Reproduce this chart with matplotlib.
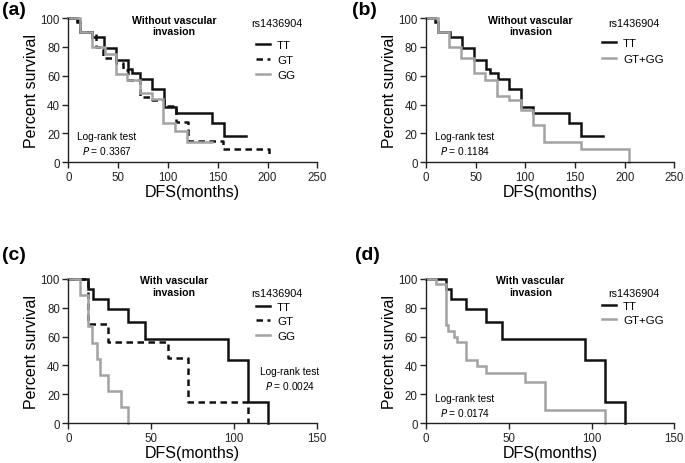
import matplotlib
matplotlib.use("Agg")
import matplotlib.pyplot as plt

plt.rcParams['font.family'] = ['Liberation Sans', 'DejaVu Sans']

# ---------------- data ----------------
# (a)/(b) without vascular invasion
tt_nv_t = [0, 9, 12, 24, 36, 48, 60, 64, 72, 84, 96, 108, 144, 156, 178]
tt_nv_s = [100, 97, 90, 87, 79, 71, 65, 62, 58, 51, 38, 34, 27, 18.5, 18.5]
gt_nv_t = [0, 9, 12, 28, 35, 48, 55, 60, 72, 84, 96, 105, 108, 120, 155, 202]
gt_nv_s = [100, 98, 90, 80, 72, 69, 64, 57, 45, 43, 39, 37, 28, 14.5, 9, 4]
gg_nv_t = [0, 12, 24, 37, 48, 59, 72, 84, 95, 107, 119, 144]
gg_nv_s = [100, 90, 80, 75, 61, 57, 48, 44, 27, 22, 14, 14]
gtgg_nv_t = [0, 12, 23, 35, 48, 59, 71, 84, 96, 108, 119, 156, 204]
gtgg_nv_s = [100, 90, 80, 72, 62, 57, 46, 43, 36, 26, 14, 9.5, 0]

# (c)/(d) with vascular invasion
tt_v_t = [0, 12, 15, 24, 36, 46, 96, 108, 120]
tt_v_s = [100, 93, 86, 79, 70, 58, 44, 15, 0]
gt_v_t = [0, 12, 24, 60, 72, 108]
gt_v_s = [100, 69, 56, 45, 15, 0]
gg_v_t = [0, 7, 12, 14, 17, 19, 24, 32, 36]
gg_v_s = [100, 89, 67, 55.6, 44.4, 33.3, 22.2, 11.1, 0]
gtgg_v_t = [0, 6, 12, 13.5, 17, 19, 24, 31, 36, 60, 72, 108]
gtgg_v_s = [100, 96, 68, 64, 60, 56, 44, 39.5, 35, 28.5, 9, 0]

panel_labels = ["(a)", "(b)", "(c)", "(d)"]
titles = ["Without vascular\ninvasion", "Without vascular\ninvasion",
          "With vascular\ninvasion", "With vascular\ninvasion"]
pvalues = ["0.3367", "0.1184", "0.0024", "0.0174"]
legend_title = "rs1436904"
x_ticks_nv = [0, 50, 100, 150, 200, 250]
x_ticks_v = [0, 50, 100, 150]
y_ticks = [0, 20, 40, 60, 80, 100]

BLACK = "#111111"
GRAY = "#a3a3a3"
LW = 1.8

fig = plt.figure(figsize=(6.85, 4.64), dpi=100)

W, H = 685.0, 464.0
def add_ax(x0, ytop, x1, ybot):
    return fig.add_axes([x0 / W, 1 - ybot / H, (x1 - x0) / W, (ybot - ytop) / H])

ax_a = add_ax(68.3, 19.0, 317.3, 163.3)
ax_b = add_ax(426.0, 19.0, 674.3, 163.3)
ax_c = add_ax(68.3, 279.7, 317.3, 424.3)
ax_d = add_ax(426.0, 279.7, 674.3, 424.3)

panels = [
    (ax_a, [(tt_nv_t, tt_nv_s, "TT", BLACK, "-"),
            (gt_nv_t, gt_nv_s, "GT", BLACK, "--"),
            (gg_nv_t, gg_nv_s, "GG", GRAY, "-")], x_ticks_nv),
    (ax_b, [(tt_nv_t, tt_nv_s, "TT", BLACK, "-"),
            (gtgg_nv_t, gtgg_nv_s, "GT+GG", GRAY, "-")], x_ticks_nv),
    (ax_c, [(tt_v_t, tt_v_s, "TT", BLACK, "-"),
            (gt_v_t, gt_v_s, "GT", BLACK, "--"),
            (gg_v_t, gg_v_s, "GG", GRAY, "-")], x_ticks_v),
    (ax_d, [(tt_v_t, tt_v_s, "TT", BLACK, "-"),
            (gtgg_v_t, gtgg_v_s, "GT+GG", GRAY, "-")], x_ticks_v),
]

# layout positions (axes fraction)
logrank_pos = [(0.155, 0.18), (0.157, 0.18), (0.89, 0.365), (0.157, 0.177)]
title_pos = [(0.424, 0.948), (0.42, 0.948), (0.424, 0.95), (0.42, 0.95)]
legtitle_pos = [(0.838, 0.965), (0.836, 0.965), (0.838, 0.9), (0.838, 0.9)]
legend_pos = [(0.752, 0.711), (0.707, 0.771), (0.752, 0.705), (0.707, 0.762)]
legend_spacing = [0.45, 0.45, 0.38, 0.38]
label_fig_pos = [(0.003, 0.995), (0.514, 0.995), (0.003, 0.468), (0.518, 0.468)]

for i, (ax, series, xticks) in enumerate(panels):
    for t, s, lab, col, ls in series:
        line, = ax.step(t, s, where="post", color=col, lw=LW, label=lab,
                        clip_on=False, solid_joinstyle="miter")
        if ls == "--":
            line.set_dashes((2.6, 1.8))
    ax.set_xlim(xticks[0], xticks[-1])
    ax.set_ylim(0, 100)
    ax.set_xticks(xticks)
    ax.set_yticks(y_ticks)
    for sp in ["top", "right"]:
        ax.spines[sp].set_visible(False)
    for sp in ["left", "bottom"]:
        ax.spines[sp].set_linewidth(1.0)
        ax.spines[sp].set_color("#222222")
    ax.tick_params(direction="out", length=4, width=1.0, labelsize=8.3,
                   colors="#222222", pad=2)
    ax.set_xlabel("DFS(months)", fontsize=11.5, labelpad=1)
    ax.set_ylabel("Percent survival", fontsize=11.5, labelpad=1)
    ax.patch.set_alpha(0)

    tx, ty = title_pos[i]
    ax.text(tx, ty, titles[i], transform=ax.transAxes, ha="center", va="center",
            fontsize=7.6, fontweight="bold", linespacing=1.2)

    lx, ly = logrank_pos[i]
    ax.text(lx, ly, "Log-rank test", transform=ax.transAxes, ha="center",
            va="center", fontsize=7.3)
    ax.text(lx, ly - 0.098, r"$\it{P}$ = " + pvalues[i], transform=ax.transAxes,
            ha="center", va="center", fontsize=7.3)

    qx, qy = legtitle_pos[i]
    ax.text(qx, qy, legend_title, transform=ax.transAxes, ha="center",
            va="center", fontsize=7.8)

    gx, gy = legend_pos[i]
    ax.legend(loc="center left", bbox_to_anchor=(gx, gy), frameon=False,
              fontsize=8.2, handlelength=1.25, handletextpad=0.65,
              labelspacing=legend_spacing[i], borderaxespad=0, borderpad=0)

    fx, fy = label_fig_pos[i]
    fig.text(fx, fy, panel_labels[i], ha="left", va="top", fontsize=14,
             fontweight="bold")

fig.savefig("out.png", dpi=100)
